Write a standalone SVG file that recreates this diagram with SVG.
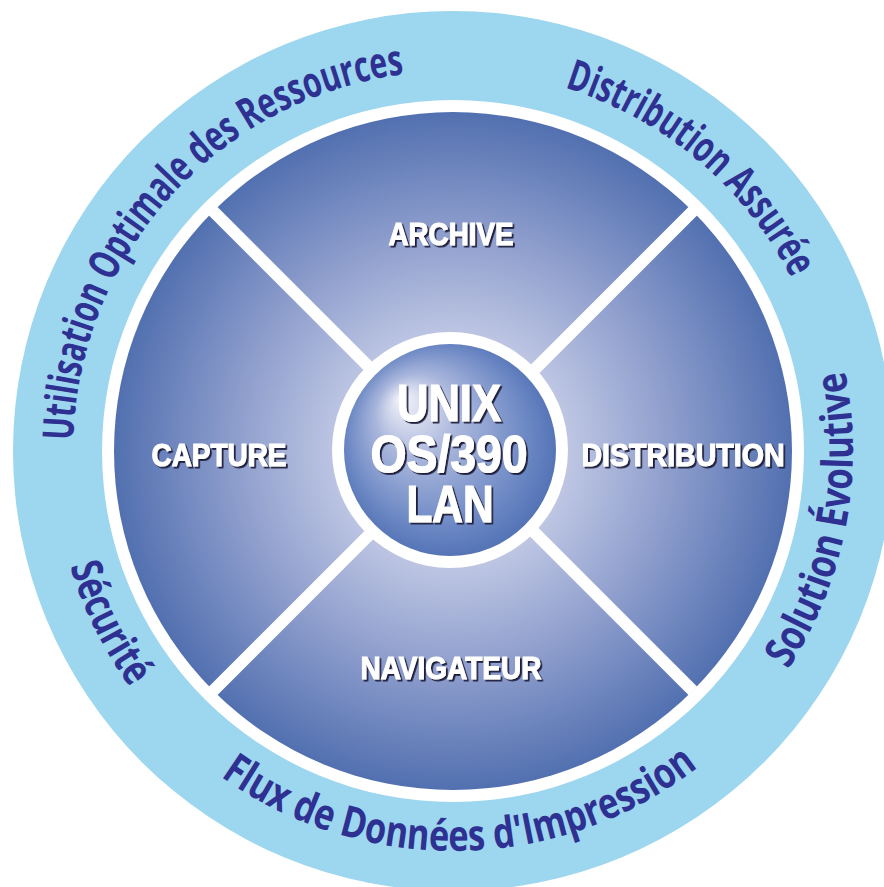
<svg xmlns="http://www.w3.org/2000/svg" width="884" height="887" viewBox="0 0 884 887">
  <defs>
    <radialGradient id="diskGrad" cx="453" cy="451" r="339" gradientUnits="userSpaceOnUse">
      <stop offset="0" stop-color="#e4e6f4"/>
      <stop offset="0.3" stop-color="#c4cbe6"/>
      <stop offset="0.65" stop-color="#8d9dcc"/>
      <stop offset="1" stop-color="#5270b0"/>
    </radialGradient>
    <radialGradient id="hubGrad" cx="450" cy="450" r="120" fx="400" fy="398" gradientUnits="userSpaceOnUse">
      <stop offset="0" stop-color="#f4f4fa"/>
      <stop offset="0.35" stop-color="#a9b6dc"/>
      <stop offset="0.75" stop-color="#6c88c4"/>
      <stop offset="1" stop-color="#4a6bb0"/>
    </radialGradient>
    <filter id="shadow" x="-10%" y="-20%" width="130%" height="150%">
      <feDropShadow dx="1.8" dy="1.8" stdDeviation="0.3" flood-color="#1c1c3a" flood-opacity="1"/>
    </filter>
    <path id="topArc" d="M 73,451 A 380 380 0 1 1 833,451 A 380 380 0 1 1 73,451"/>
    <path id="botArc" d="M 53,451 A 400 400 0 1 0 853,451 A 400 400 0 1 0 53,451"/>
  </defs>
  <style>
    .ring { font-family: "Open Sans", "Noto Sans", sans-serif; font-weight: bold; font-size: 43px; fill: #2e3192; }
    .lbl { font-family: "Liberation Sans", Arial, sans-serif; font-weight: bold; font-size: 31px; fill: #ffffff; stroke: #ffffff; stroke-width: 1; text-anchor: middle; filter: url(#shadow); }
    .hub { font-family: "Liberation Sans", Arial, sans-serif; font-weight: bold; font-size: 52px; fill: #ffffff; stroke: #ffffff; stroke-width: 1.2; text-anchor: middle; filter: url(#shadow); }
    .cross { stroke: #ffffff; stroke-width: 12; }
  </style>
  <rect width="884" height="887" fill="#ffffff"/>

  <g id="outer-ring">
    <circle cx="453" cy="451" r="440" fill="#9dd6ef"/>
    <circle cx="453" cy="451" r="351" fill="#ffffff"/>
  </g>

  <g id="disk">
    <circle cx="453" cy="451" r="339" fill="url(#diskGrad)"/>
  </g>

  <g id="connectors">
    <line class="cross" x1="213" y1="211" x2="693" y2="691"/>
    <line class="cross" x1="693" y1="211" x2="213" y2="691"/>
  </g>

  <g id="hub">
    <circle cx="450" cy="450" r="118" fill="#ffffff"/>
    <circle cx="450" cy="450" r="106" fill="url(#hubGrad)"/>
    <text class="hub" x="449" y="421" textLength="104" lengthAdjust="spacingAndGlyphs">UNIX</text>
    <text class="hub" x="449" y="472" textLength="157" lengthAdjust="spacingAndGlyphs">OS/390</text>
    <text class="hub" x="450" y="522" textLength="87" lengthAdjust="spacingAndGlyphs">LAN</text>
  </g>

  <g id="archive">
    <text class="lbl" x="451" y="245" textLength="125" lengthAdjust="spacingAndGlyphs">ARCHIVE</text>
  </g>
  <g id="capture">
    <text class="lbl" x="219" y="466" textLength="135" lengthAdjust="spacingAndGlyphs">CAPTURE</text>
  </g>
  <g id="distribution">
    <text class="lbl" x="683" y="466" textLength="203" lengthAdjust="spacingAndGlyphs">DISTRIBUTION</text>
  </g>
  <g id="navigateur">
    <text class="lbl" x="451" y="679" textLength="181" lengthAdjust="spacingAndGlyphs">NAVIGATEUR</text>
  </g>

  <g id="ring-utilisation">
    <text class="ring"><textPath href="#topArc" startOffset="10.6" textLength="537" lengthAdjust="spacingAndGlyphs">Utilisation Optimale des Ressources</textPath></text>
  </g>
  <g id="ring-distribution">
    <text class="ring"><textPath href="#topArc" startOffset="710" textLength="304" lengthAdjust="spacingAndGlyphs">Distribution Assurée</textPath></text>
  </g>
  <g id="ring-securite">
    <text class="ring"><textPath href="#botArc" startOffset="117" textLength="136" lengthAdjust="spacingAndGlyphs">Sécurité</textPath></text>
  </g>
  <g id="ring-flux">
    <text class="ring"><textPath href="#botArc" startOffset="380" textLength="512" lengthAdjust="spacingAndGlyphs">Flux de Données d'Impression</textPath></text>
  </g>
  <g id="ring-solution">
    <text class="ring"><textPath href="#botArc" startOffset="1025" textLength="312" lengthAdjust="spacingAndGlyphs">Solution Évolutive</textPath></text>
  </g>
</svg>
